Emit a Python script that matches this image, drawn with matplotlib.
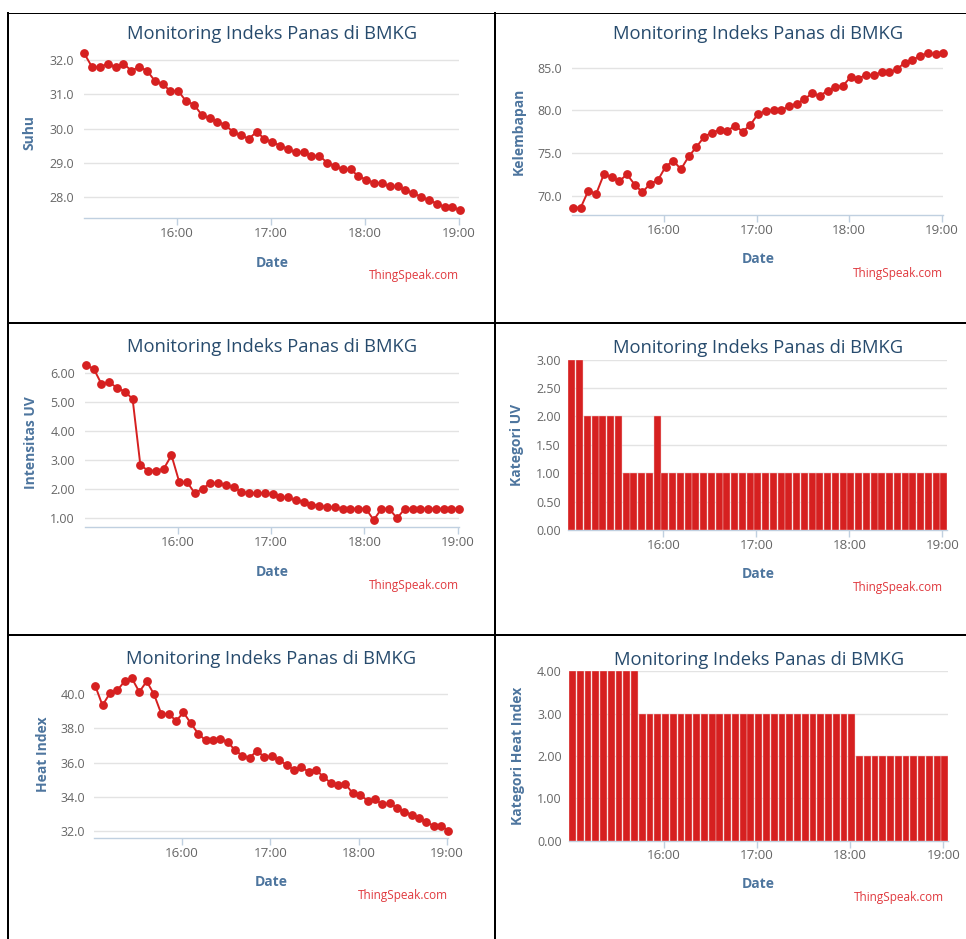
import matplotlib
matplotlib.use("Agg")
import matplotlib.pyplot as plt
from matplotlib.lines import Line2D

W, H = 966, 939

# ---------------- data ----------------
times = ["15:01", "15:06", "15:11", "15:16", "15:21", "15:26", "15:31", "15:36", "15:41", "15:46",
         "15:51", "15:56", "16:01", "16:06", "16:11", "16:16", "16:21", "16:26", "16:31", "16:36",
         "16:41", "16:46", "16:51", "16:56", "17:01", "17:06", "17:11", "17:16", "17:21", "17:26",
         "17:31", "17:36", "17:41", "17:46", "17:51", "17:56", "18:01", "18:06", "18:11", "18:16",
         "18:21", "18:26", "18:31", "18:36", "18:41", "18:46", "18:51", "18:56", "19:01"]

suhu = [32.2, 31.8, 31.8, 31.9, 31.8, 31.9, 31.7, 31.8, 31.7, 31.4,
        31.3, 31.1, 31.1, 30.8, 30.7, 30.4, 30.3, 30.2, 30.1, 29.9,
        29.8, 29.7, 29.9, 29.7, 29.6, 29.5, 29.4, 29.3, 29.3, 29.2,
        29.2, 29.0, 28.9, 28.8, 28.8, 28.6, 28.5, 28.4, 28.4, 28.3,
        28.3, 28.2, 28.1, 28.0, 27.9, 27.8, 27.7, 27.7, 27.6]

kelembapan = [68.6, 68.6, 70.6, 70.2, 72.5, 72.2, 71.7, 72.5, 71.3, 70.4,
              71.4, 71.8, 73.4, 74.1, 73.1, 74.6, 75.7, 76.9, 77.4, 77.7,
              77.6, 78.2, 77.5, 78.3, 79.6, 79.9, 80.0, 80.0, 80.5, 80.8,
              81.3, 82.0, 81.7, 82.3, 82.7, 82.9, 83.9, 83.7, 84.2, 84.1,
              84.5, 84.5, 84.8, 85.6, 85.9, 86.4, 86.7, 86.6, 86.7]

intensitas_uv = [6.26, 6.15, 5.62, 5.68, 5.49, 5.36, 5.11, 2.83, 2.64, 2.64,
                 2.70, 3.17, 2.25, 2.25, 1.86, 2.02, 2.21, 2.21, 2.13, 2.07,
                 1.91, 1.87, 1.87, 1.87, 1.82, 1.72, 1.72, 1.62, 1.57, 1.47,
                 1.44, 1.38, 1.38, 1.33, 1.33, 1.33, 1.33, 0.94, 1.33, 1.33,
                 1.00, 1.33, 1.33, 1.33, 1.33, 1.33, 1.33, 1.33, 1.33]

kategori_uv = [3, 3, 2, 2, 2, 2, 2, 1, 1, 1,
               1, 2, 1, 1, 1, 1, 1, 1, 1, 1,
               1, 1, 1, 1, 1, 1, 1, 1, 1, 1,
               1, 1, 1, 1, 1, 1, 1, 1, 1, 1,
               1, 1, 1, 1, 1, 1, 1, 1, 1]

heat_index = [40.49, 39.34, 40.04, 40.21, 40.74, 40.91, 40.12, 40.74, 39.98, 38.83,
              38.85, 38.43, 38.93, 38.29, 37.69, 37.30, 37.32, 37.36, 37.22, 36.72,
              36.41, 36.29, 36.70, 36.31, 36.37, 36.14, 35.88, 35.59, 35.73, 35.48,
              35.59, 35.17, 34.83, 34.68, 34.76, 34.21, 34.12, 33.79, 33.88, 33.57,
              33.63, 33.38, 33.13, 32.97, 32.76, 32.54, 32.31, 32.31, 32.04]

kategori_hi = [4, 4, 4, 4, 4, 4, 4, 4, 4, 3,
               3, 3, 3, 3, 3, 3, 3, 3, 3, 3,
               3, 3, 3, 3, 3, 3, 3, 3, 3, 3,
               3, 3, 3, 3, 3, 3, 3, 2, 2, 2,
               2, 2, 2, 2, 2, 2, 2, 2, 2]

title_text = "Monitoring Indeks Panas di BMKG"
xtick_hours = [16, 17, 18, 19]
xtick_labels = ["16:00", "17:00", "18:00", "19:00"]


def to_hours(s):
    h, m = s.split(":")
    return int(h) + int(m) / 60.0


xh = [to_hours(t) for t in times]

# ---------------- style ----------------
RED = "#d62020"
CREDIT_C = "#e0393e"
TITLE_C = "#274b6d"
AXT_C = "#4d759e"
TICK_C = "#666666"
GRID_C = "#e3e3e3"
AXLINE_C = "#c0d0e0"

plt.rcParams['font.family'] = ['Open Sans', 'DejaVu Sans']

fig = plt.figure(figsize=(W / 100, H / 100), dpi=100)
fig.patch.set_facecolor("white")

panels = [
    dict(kind='line', y=suhu, ylabel='Suhu', box=(84, 459.3, 48, 218.3),
         p16=176.7, p19=458.7, ref=((32.0, 60.3), (28.0, 196.7)),
         yticks=[28, 29, 30, 31, 32], fmt='{:.1f}',
         title=(271.7, 34), ylab=(29, 132), tickright=74, date=(272, 263),
         ts=(459, 276), xtick_y=234),
    dict(kind='line', y=kelembapan, ylabel='Kelembapan', box=(572.3, 942.7, 48, 215),
         p16=664, p19=941.7, ref=((85.0, 67.7), (70.0, 195.7)),
         yticks=[70, 75, 80, 85], fmt='{:.1f}',
         title=(758, 34), ylab=(519, 131), tickright=562, date=(758, 259),
         ts=(942.7, 273), xtick_y=231),
    dict(kind='line', y=intensitas_uv, ylabel='Intensitas UV', box=(85.3, 458.7, 360, 527.3),
         p16=177.7, p19=457.7, ref=((6.0, 373), (1.0, 518.3)),
         yticks=[1, 2, 3, 4, 5, 6], fmt='{:.2f}',
         title=(272, 346.7), ylab=(31, 442.7), tickright=75, date=(272, 571.7),
         ts=(458.7, 585), xtick_y=542.7),
    dict(kind='bar', y=kategori_uv, ylabel='Kategori UV', box=(568.3, 946.7, 359.7, 530),
         p16=663.3, p19=942.3, ref=((3.0, 359.7), (0.0, 530)),
         yticks=[0, 0.5, 1, 1.5, 2, 2.5, 3], fmt='{:.2f}',
         title=(757.7, 348.3), ylab=(517.5, 444.7), tickright=561, date=(758, 574.3),
         ts=(943.3, 587.7), xtick_y=546),
    dict(kind='line', y=heat_index, ylabel='Heat Index', box=(94.3, 448, 673, 838.3),
         p16=182, p19=447, ref=((40.0, 694), (32.0, 831.3)),
         yticks=[32, 34, 36, 38, 40], fmt='{:.1f}',
         title=(271.5, 659.3), ylab=(43, 754.5), tickright=85, date=(271.5, 882.3),
         ts=(448, 895), xtick_y=854.3),
    dict(kind='bar', y=kategori_hi, ylabel='Kategori Heat Index', box=(568.7, 947.7, 671.3, 840.7),
         p16=664, p19=943.3, ref=((4.0, 671.3), (0.0, 840.7)),
         yticks=[0, 1, 2, 3, 4], fmt='{:.2f}',
         title=(758.7, 660), ylab=(517.8, 756), tickright=561.7, date=(758, 884.3),
         ts=(944.3, 897.3), xtick_y=856),
]

PT = 0.72  # points per pixel at 100 dpi


def fx(px):
    return px / W


def fy(py):
    return 1 - py / H


for p in panels:
    left, right, top, bottom = p['box']
    ax = fig.add_axes([left / W, 1 - bottom / H, (right - left) / W, (bottom - top) / H])
    ax.set_facecolor("none")

    (va_, pa), (vb, pb) = p['ref']
    scale = (pb - pa) / (va_ - vb)
    ymax = va_ + (pa - top) / scale
    ymin = va_ - (bottom - pa) / scale
    k = (p['p19'] - p['p16']) / 3.0
    xmin = 16 + (left - p['p16']) / k
    xmax = 16 + (right - p['p16']) / k

    if p['kind'] == 'line':
        ax.plot(xh, p['y'], color=RED, lw=1.4, marker='o', ms=5.3,
                mfc=RED, mec=RED, clip_on=False, zorder=3)
    else:
        ax.bar(xh, p['y'], width=5 / 60 * 0.88, color=RED, edgecolor="#f3c9c9",
               linewidth=0.3, zorder=3)

    ax.set_xlim(xmin, xmax)
    ax.set_ylim(ymin, ymax)

    ax.set_yticks(p['yticks'])
    ax.set_yticklabels([p['fmt'].format(v) for v in p['yticks']])
    ax.set_xticks(xtick_hours)
    ax.set_xticklabels(xtick_labels)

    ax.yaxis.grid(True, color=GRID_C, lw=1.0)
    ax.set_axisbelow(True)
    for s in ['top', 'right', 'left']:
        ax.spines[s].set_visible(False)
    ax.spines['bottom'].set_color(AXLINE_C)
    ax.spines['bottom'].set_linewidth(1.0)

    ax.tick_params(axis='y', length=0, labelsize=9, labelcolor=TICK_C,
                   pad=(left - p['tickright']) * PT)
    xpad = max(0.5, (p['xtick_y'] - 7 - bottom - 7))
    ax.tick_params(axis='x', length=5, width=1, color=AXLINE_C, labelsize=9.6,
                   labelcolor=TICK_C, pad=xpad * PT)

    fig.text(fx(p['title'][0]), fy(p['title'][1]), title_text, ha='center', va='center',
             fontsize=13.2, color=TITLE_C)
    fig.text(fx(p['ylab'][0]), fy(p['ylab'][1]), p['ylabel'], ha='center', va='center',
             rotation=90, fontsize=10, fontweight='bold', color=AXT_C)
    fig.text(fx(p['date'][0]), fy(p['date'][1]), "Date", ha='center', va='center',
             fontsize=10, fontweight='bold', color=AXT_C)
    fig.text(fx(p['ts'][0]), fy(p['ts'][1]), "ThingSpeak.com", ha='right', va='center',
             fontsize=8.5, color=CREDIT_C)

# ---------------- table borders ----------------
borders = [
    ((7, 966), (12.5, 12.5), 1.0),
    ((8, 8), (12.5, 939), 2.0),
    ((495, 495), (12.5, 939), 2.0),
    ((8, 966), (322.7, 322.7), 2.0),
    ((8, 966), (635, 635), 2.0),
]
for (x0, x1), (y0, y1), lw in borders:
    fig.add_artist(Line2D([fx(x0), fx(x1)], [fy(y0), fy(y1)], color='black',
                          lw=lw * PT, transform=fig.transFigure))

fig.savefig("out.png", dpi=100, facecolor="white")
